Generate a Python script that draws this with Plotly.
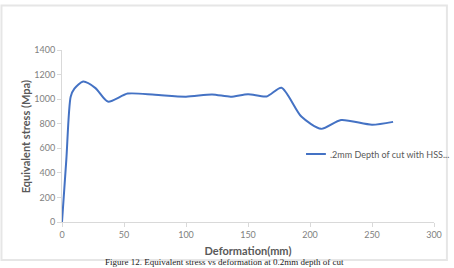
import plotly.graph_objects as go

deformation = [0, 3.5, 7, 10, 17, 27, 37, 53, 75, 100, 121, 136, 150, 165, 177, 193, 209, 225, 250, 267]
stress = [0, 510, 1020, 1085, 1143, 1090, 980, 1045, 1035, 1020, 1038, 1020, 1040, 1022, 1093, 858, 758, 830, 792, 815]

x_ticks = [0, 50, 100, 150, 200, 250, 300]
y_ticks = [0, 200, 400, 600, 800, 1000, 1200, 1400]

series_name = ".2mm Depth of cut with HSS..."
caption = "Figure 12. Equivalent stress vs deformation at 0.2mm depth of cut"

L, R, T, B = 62, 17, 50, 46
W, H = 454, 268
pw, ph = W - L - R, H - T - B

def px(x):
    return (x - L) / pw

def py(y):
    return (H - B - y) / ph

fig = go.Figure()
fig.add_trace(go.Scatter(
    x=deformation, y=stress, mode="lines", name=series_name,
    line=dict(color="#4472C4", width=2, shape="spline", smoothing=0.7),
    showlegend=False,
))

axis_font = dict(family="Lato", size=9, color="#7f7f7f")
title_font = dict(family="Lato", size=11, color="#595959")
fig.update_xaxes(
    range=[0, 300], tickvals=x_ticks, showgrid=False, zeroline=False,
    showline=True, linecolor="#d9d9d9", linewidth=1,
    ticks="outside", ticklen=4, tickcolor="#d9d9d9", tickfont=axis_font,
    title=dict(text="<b>Deformation(mm)</b>", font=title_font, standoff=8),
)
fig.update_yaxes(
    range=[0, 1400], tickvals=y_ticks, showgrid=False, zeroline=False,
    showline=True, linecolor="#d9d9d9", linewidth=1,
    ticks="outside", ticklen=4, tickcolor="#d9d9d9", tickfont=axis_font,
)

# y-axis title
fig.add_annotation(xref="paper", yref="paper", x=px(25), y=py(137),
                   text="<b>Equivalent stress (Mpa)</b>", showarrow=False, textangle=-90,
                   xanchor="center", yanchor="middle", font=title_font)

# legend (manual, Excel-like)
fig.add_shape(type="line", xref="paper", yref="paper",
              x0=px(308), x1=px(328), y0=py(154), y1=py(154),
              line=dict(color="#4472C4", width=2))
fig.add_annotation(xref="paper", yref="paper", x=px(330), y=py(154),
                   text=series_name, showarrow=False, xanchor="left", yanchor="middle",
                   font=dict(family="Lato", size=9, color="#595959"))

# chart area border
fig.add_shape(type="rect", xref="paper", yref="paper",
              x0=px(1), x1=px(450), y0=py(5.5), y1=py(260),
              line=dict(color="#e6e6e6", width=2), fillcolor="rgba(0,0,0,0)")

# caption
fig.add_annotation(xref="paper", yref="paper", x=px(226), y=py(268),
                   text=caption, showarrow=False, xanchor="center", yanchor="bottom",
                   borderpad=0,
                   font=dict(family="Liberation Serif", size=9, color="#222222"))

fig.update_layout(
    width=W, height=H, margin=dict(l=L, r=R, t=T, b=B),
    paper_bgcolor="white", plot_bgcolor="white",
)
fig.write_html("out.html")
